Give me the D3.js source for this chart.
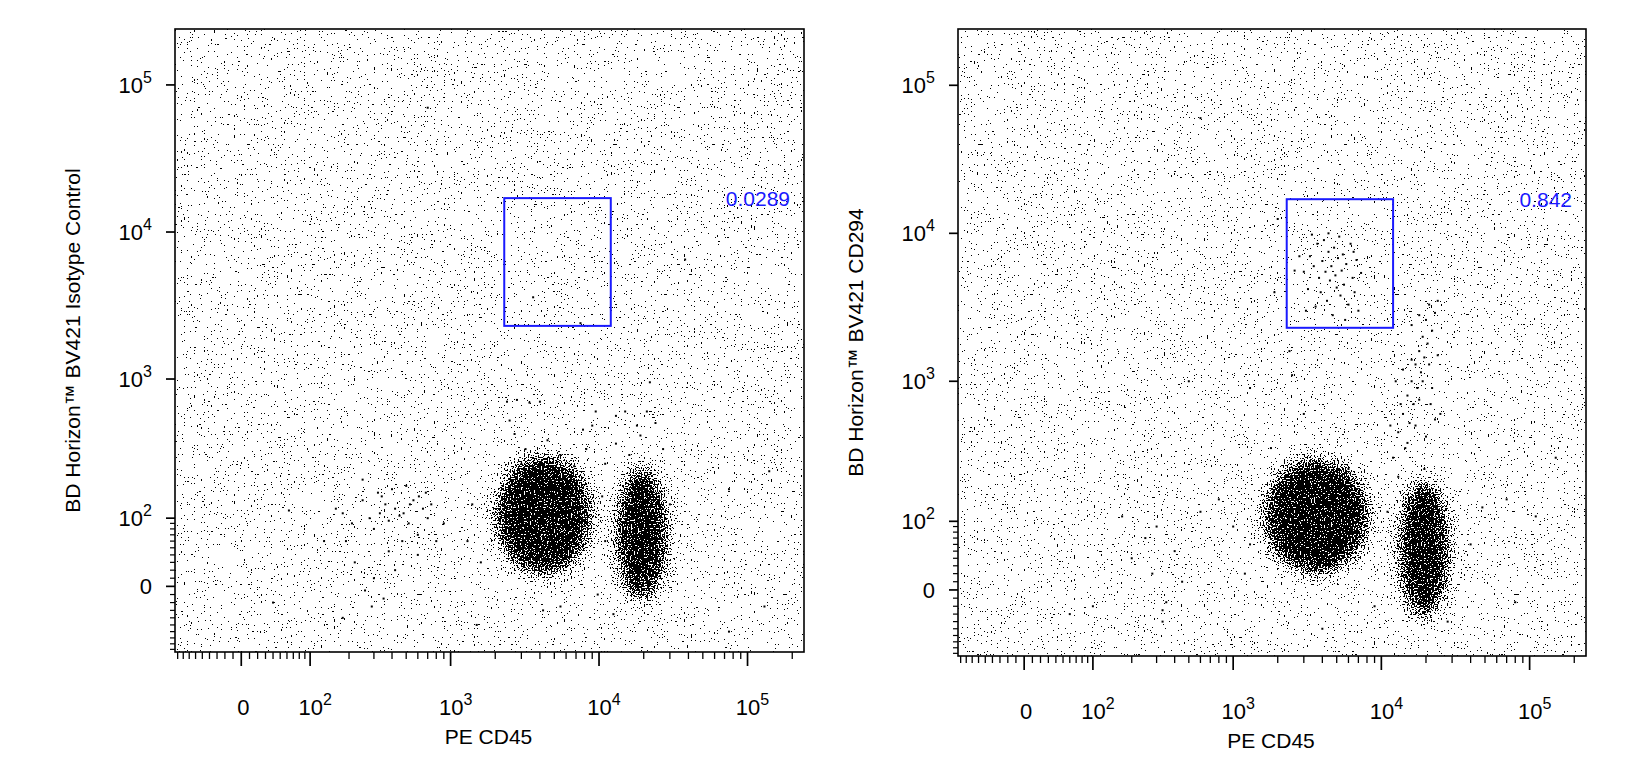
<!DOCTYPE html>
<html><head><meta charset="utf-8">
<script src="https://cdn.jsdelivr.net/npm/d3@7"></script>
<style>body{margin:0;background:#fff}text{font-family:"Liberation Sans",Arial,sans-serif}</style>
</head><body>
<svg id="chart" width="1640" height="774"></svg>
<script>
// ---- data (in fluorescence units) ----
var panelTitles = ["BD Horizon\u2122 BV421 Isotype Control", "BD Horizon\u2122 BV421 CD294"];
var xTitle = "PE CD45";
var majorTicks = [0, 1e2, 1e3, 1e4, 1e5];
var gateBox = [[2300, 12000, 2300, 17000], [2300, 12000, 2300, 17000]]; // xlo,xhi,ylo,yhi
var gateValues = ["0.0289", "0.842"];

// dense cores: xlo, xhi, ylo, yhi
var coresLeft  = [[2000, 9000, 14, 300], [13000, 29000, -18, 250]];
var coresRight = [[1600, 8300, 20, 300], [13000, 29000, -35, 210]];

var dotsLeft = [
 [160,120],[190,60],[210,90],[250,140],[280,100],[300,80],[330,110],[360,130],[380,95],[420,120],
 [450,105],[480,110],[520,90],[560,140],[600,70],[650,120],[700,100],[740,130],[220,30],[300,10],
 [350,-15],[420,20],[260,-5],[600,40],[800,60],[900,90],[180,110],[400,170],[500,180],[340,150],
 [610,150],[250,200],[320,160],[470,60],[530,130],[680,160],[380,45],[290,-25],
 [700,70000],[3600,3600],[7500,2400],[38000,6500],[22000,950],[63,116],[40,-20],[130,60],[180,-40],
 [1500,-50],[130000,-25],[75000,-60],[30000,130],[75000,170],[140000,230],
 [2400,700],[2800,720],[3400,690],[4000,700],[2700,420],[3200,330],[4500,380],[5500,300],[7800,450],
 [8200,330],[9500,600],[13000,560],[15000,600],[18000,480],[21000,600],[24000,500],[13000,360],
 [16000,300],[27000,330],[11000,260],[6800,250],[2500,520],[3000,260],[9000,480],[19000,410],
 [1400,130],[1300,60],[1600,30],[10500,150],[11000,60],[4200,-30],[5500,-25],[9800,-10],[12500,-35]
];
var dotsRight = [
 // inside the gate
 [3000,5500],[3200,4200],[3300,7000],[3500,6000],[3600,3200],[3700,8500],[3800,5000],[3900,4000],
 [4000,6500],[4100,9000],[4200,5500],[4300,3500],[4400,7500],[4500,4800],[4600,6000],[4700,2800],
 [4800,8000],[4900,5200],[5000,4300],[5100,6800],[5200,9500],[5300,3800],[5400,5600],[5500,7200],
 [5600,4500],[5800,6200],[6000,3300],[6200,8500],[6400,5000],[6600,4000],[6800,6600],[7000,3000],
 [7300,5400],[3400,9800],[4400,10000],[5700,2600],[3100,3000],[6500,7500],[2600,5600],[2800,7000],
 // streak above the right cluster
 [12000,300],[13000,450],[14000,600],[15000,800],[16000,1000],[17000,1300],[18000,1600],[19000,2000],
 [20000,2600],[21000,3300],[14500,350],[15500,520],[16500,700],[17500,900],[18500,1150],[19500,1450],
 [20500,1800],[22000,2200],[23000,2900],[24000,1500],[13500,700],[16000,1400],[17000,500],[18000,750],
 [19000,1000],[21000,1300],[22000,900],[25000,600],[12500,1000],[14000,1200],[15000,380],[20000,420],
 [23000,550],[24000,3500],[16000,2400],[18000,2800],[21500,700],[13000,220],[19500,250],[11500,500],
 // scattered
 [600,60000],[150000,300],[110000,110],[70000,150],[48000,130],[80000,-15],[500,1000],[2000,12500],
 [1900,4000],[2400,1600],[2500,1100],[1300,900],[3000,600],[1800,350],[100,-20],[200,40],[350,-15],
 [250,70],[300,90],[400,50],[170,110],[600,120],[800,150],[1000,90],[1300,60],[1200,20],[330,-40],
 [330,-25],[280,20],[450,10],[60,-30],[4000,-50],[9000,-20],[28000,-40],[40000,60],[11000,120],[6000,250]
];

// ---- helpers ----
var svg = d3.select("#chart");
function tf(v) { return Math.asinh(v / 78) / Math.LN10; }
var fLo = tf(-95), fHi = tf(240000);

var defs = svg.append("defs");
var filt = defs.append("filter").attr("id", "speck").attr("filterUnits", "userSpaceOnUse")
  .attr("x", 0).attr("y", 0).attr("width", 1640).attr("height", 774);
filt.append("feGaussianBlur").attr("in", "SourceAlpha").attr("stdDeviation", 9).attr("result", "b");
filt.append("feTurbulence").attr("type", "fractalNoise").attr("baseFrequency", 0.7)
  .attr("numOctaves", 1).attr("seed", 4).attr("result", "n");
filt.append("feColorMatrix").attr("in", "n").attr("type", "matrix")
  .attr("values", "0 0 0 0 0  0 0 0 0 0  0 0 0 0 0  1 0 0 0 0").attr("result", "na");
filt.append("feComposite").attr("in", "b").attr("in2", "na").attr("operator", "arithmetic")
  .attr("k1", 0).attr("k2", 1.0).attr("k3", 3.0).attr("k4", -1.6).attr("result", "m");
filt.append("feComponentTransfer").attr("in", "m").attr("result", "t")
  .append("feFuncA").attr("type", "discrete").attr("tableValues", "0 1");
filt.append("feFlood").attr("flood-color", "#000").attr("result", "f");
filt.append("feComposite").attr("in", "f").attr("in2", "t").attr("operator", "in");

function powLabel(sel, v) {
  if (v === 0) { sel.text("0"); return; }
  sel.text("10");
  sel.append("tspan").attr("dy", -10).attr("font-size", 16).text(Math.round(Math.log10(v)));
}

// minor tick values
var minor = d3.range(-90, 100, 10).filter(function(v){ return v !== 0; });
[10, 100, 1000, 10000, 100000].forEach(function(p) {
  for (var k = 2; k <= 9; k++) if (p * k > 90 && p * k < 240000) minor.push(p * k);
});

function panel(left, top, w, h, idx, cores, dots) {
  var x = d3.scaleLinear().domain([fLo, fHi]).range([left, left + w]);
  var y = d3.scaleLinear().domain([fLo, fHi]).range([top + h, top]);
  var X = function(v){ return x(tf(v)); }, Y = function(v){ return y(tf(v)); };
  var g = svg.append("g");
  var clipId = "clip" + idx;
  defs.append("clipPath").attr("id", clipId).append("rect")
    .attr("x", left).attr("y", top).attr("width", w).attr("height", h);
  var plot = g.append("g").attr("clip-path", "url(#" + clipId + ")");

  plot.append("g").attr("filter", "url(#speck)").selectAll("ellipse").data(cores).join("ellipse")
    .attr("cx", function(d){ return (X(d[0]) + X(d[1])) / 2; })
    .attr("cy", function(d){ return (Y(d[2]) + Y(d[3])) / 2; })
    .attr("rx", function(d){ return (X(d[1]) - X(d[0])) / 2; })
    .attr("ry", function(d){ return (Y(d[2]) - Y(d[3])) / 2; })
    .attr("fill", "#000");

  plot.selectAll("rect.dot").data(dots).join("rect").attr("class", "dot")
    .attr("x", function(d){ return X(d[0]) - 1; })
    .attr("y", function(d){ return Y(d[1]) - 1; })
    .attr("width", 2).attr("height", 2).attr("fill", "#000");

  // gate
  var gb = gateBox[idx];
  g.append("rect").attr("x", X(gb[0])).attr("y", Y(gb[3]))
    .attr("width", X(gb[1]) - X(gb[0])).attr("height", Y(gb[2]) - Y(gb[3]))
    .attr("fill", "none").attr("stroke", "#1a1aff").attr("stroke-width", 2);
  g.append("text").attr("x", left + w - 14).attr("y", Y(gb[3]) + 8).attr("text-anchor", "end")
    .attr("font-size", 21).attr("fill", "#1a1aff").text(gateValues[idx]);

  // frame
  g.append("rect").attr("x", left).attr("y", top).attr("width", w).attr("height", h)
    .attr("fill", "none").attr("stroke", "#000").attr("stroke-width", 1.6);

  // x ticks
  var tb = top + h;
  g.selectAll("line.xm").data(minor).join("line").attr("class", "xm")
    .attr("x1", X).attr("x2", X).attr("y1", tb).attr("y2", tb + 7)
    .attr("stroke", "#000").attr("stroke-width", 1.3);
  g.selectAll("line.xM").data(majorTicks).join("line").attr("class", "xM")
    .attr("x1", X).attr("x2", X).attr("y1", tb).attr("y2", tb + 14)
    .attr("stroke", "#000").attr("stroke-width", 1.7);
  g.selectAll("text.xl").data(majorTicks).join("text").attr("class", "xl")
    .attr("x", function(d){ return X(d) + (d === 0 ? 2 : 5); }).attr("y", tb + 63)
    .attr("text-anchor", "middle").attr("font-size", 22)
    .each(function(d){ powLabel(d3.select(this), d); });
  g.append("text").attr("x", left + w / 2 - 1).attr("y", tb + 92).attr("text-anchor", "middle")
    .attr("font-size", 21).text(xTitle);

  // y ticks
  var yMinor = d3.range(-90, 100, 10).filter(function(v){ return v !== 0; });
  g.selectAll("line.ym").data(yMinor).join("line").attr("class", "ym")
    .attr("x1", left).attr("x2", left - 5).attr("y1", Y).attr("y2", Y)
    .attr("stroke", "#000").attr("stroke-width", 1.2);
  g.selectAll("line.yM").data(majorTicks).join("line").attr("class", "yM")
    .attr("x1", left).attr("x2", left - 9).attr("y1", Y).attr("y2", Y)
    .attr("stroke", "#000").attr("stroke-width", 1.7);
  g.selectAll("text.yl").data(majorTicks).join("text").attr("class", "yl")
    .attr("x", left - 23).attr("y", function(d){ return Y(d) + 8; })
    .attr("text-anchor", "end").attr("font-size", 22)
    .each(function(d){ powLabel(d3.select(this), d); });
  g.append("text").attr("transform", "translate(" + (left - 95) + "," + (top + h / 2) + ") rotate(-90)")
    .attr("text-anchor", "middle").attr("font-size", 21).text(panelTitles[idx]);
}

panel(175, 29, 629, 623, 0, coresLeft, dotsLeft);
panel(958, 29, 628, 627, 1, coresRight, dotsRight);
</script>
</body></html>
